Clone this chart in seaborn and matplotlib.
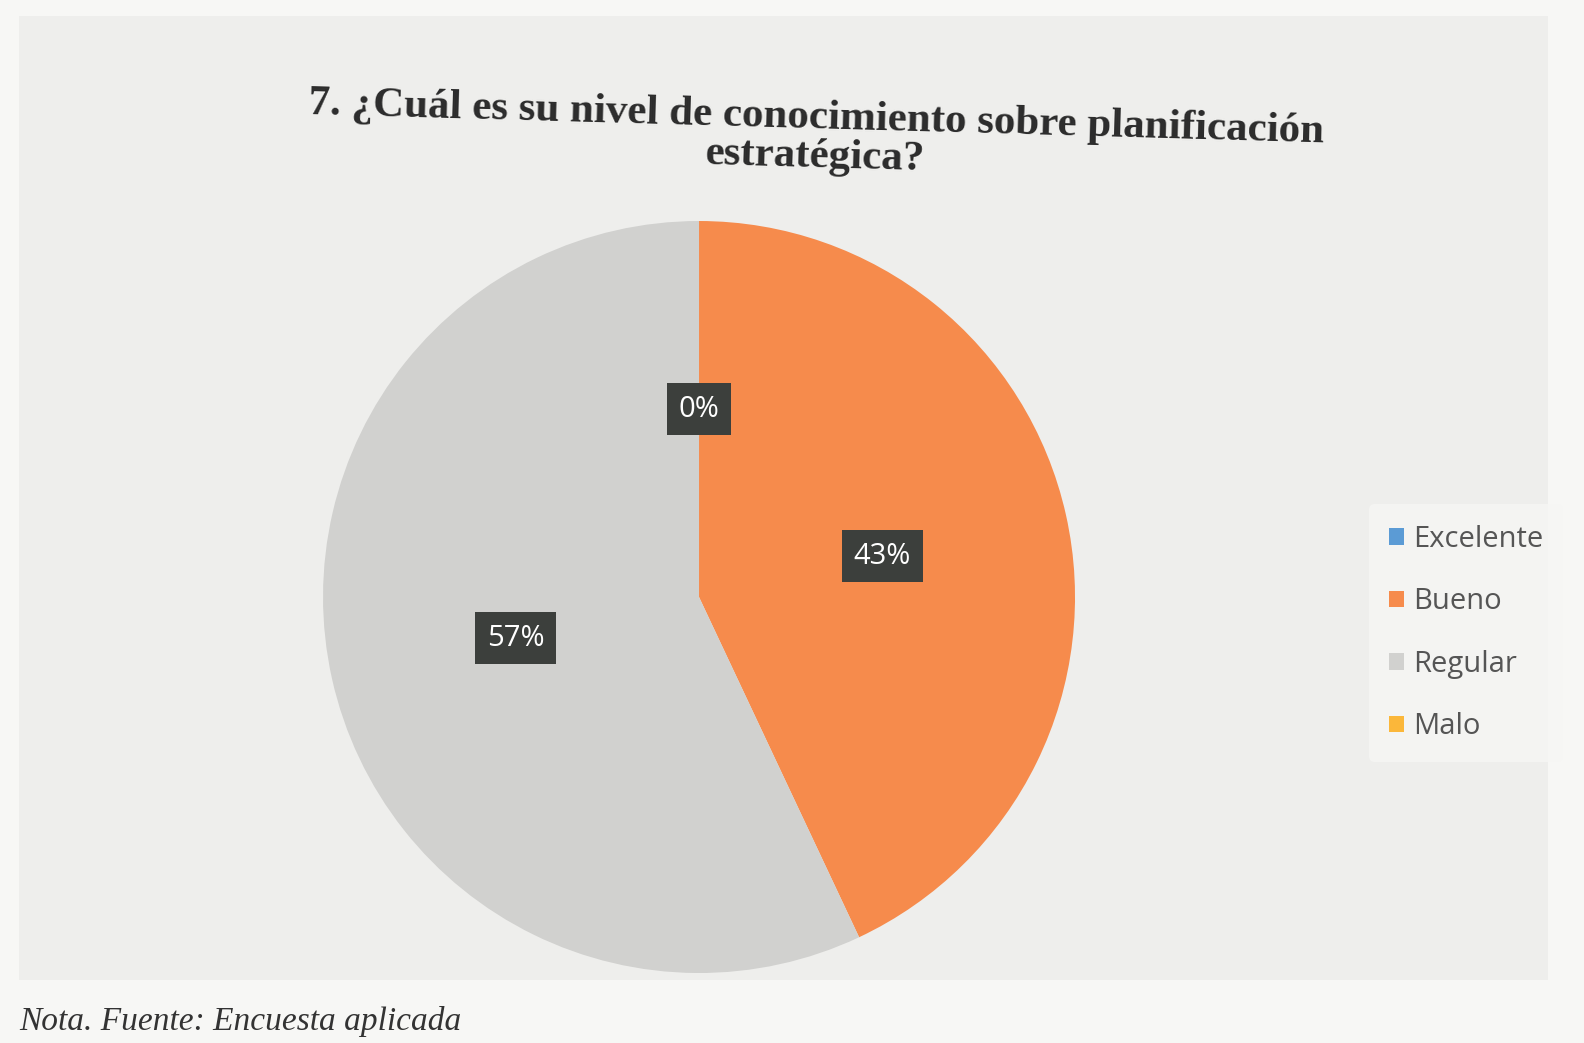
import matplotlib.pyplot as plt
import matplotlib.patches as mpatches
import seaborn as sns

sns.set_theme(style='white')
plt.rcParams['font.family'] = ['Open Sans', 'DejaVu Sans']

# data
categories = ['Excelente', 'Bueno', 'Regular', 'Malo']
percentages = [0, 43, 57, 0]
colors = ['#5b9bd5', '#f68b4c', '#d1d1cf', '#fbb73a']

fig = plt.figure(figsize=(15.84, 10.43), dpi=100)
fig.patch.set_facecolor('#f7f7f5')

# the printed chart area (a bit greyer than the page)
fig.patches.append(mpatches.Rectangle((0.012, 0.06), 0.965, 0.925, transform=fig.transFigure,
                                      facecolor='#eeeeec', edgecolor='none', zorder=-5))

ax = fig.add_axes([0.2039, 0.0671, 0.4748, 0.721])
ax.set_zorder(2)
ax.patch.set_alpha(0)
wedges, _, autotexts = ax.pie(percentages, colors=colors, startangle=90, counterclock=False,
                              autopct='%1.0f%%', pctdistance=0.5,
                              wedgeprops=dict(linewidth=0),
                              textprops=dict(color='white', fontsize=21))
for t in autotexts:
    t.set_bbox(dict(boxstyle='square,pad=0.4', facecolor='#3c3f3c', edgecolor='none'))
ax.set_xlim(-1, 1)
ax.set_ylim(-1, 1)

# title in serif bold, slightly tilted like the photo
fig.text(0.515, 0.868, '7. ¿Cuál es su nivel de conocimiento sobre planificación\nestratégica?',
         ha='center', va='center', fontsize=31, fontweight='bold', color='#2b2b2b',
         family=['Liberation Serif', 'DejaVu Serif'], linespacing=1.0, rotation=-1.6)

leg = fig.legend(wedges, categories, loc='center left', bbox_to_anchor=(0.855, 0.393),
                 frameon=True, fontsize=21, handlelength=0.5, handleheight=0.5,
                 handletextpad=0.3, labelspacing=1.15, borderpad=0.7)
leg.get_frame().set_facecolor('#f6f6f4')
leg.get_frame().set_edgecolor('none')
for txt in leg.get_texts():
    txt.set_color('#555555')

# note below the chart
fig.text(0.012, 0.006, 'Nota. Fuente: Encuesta aplicada', ha='left', va='bottom', fontsize=24,
         style='italic', color='#333333', family=['Liberation Serif', 'DejaVu Serif'])

fig.savefig('out.png', dpi=100, facecolor=fig.get_facecolor())
